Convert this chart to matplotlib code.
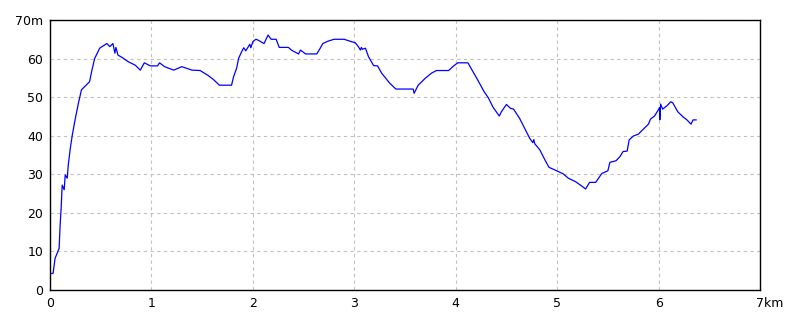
import matplotlib
matplotlib.use('Agg')
import matplotlib.pyplot as plt
import matplotlib.transforms as mtransforms

# distance (km) and elevation (m)
dist = [0.00, 0.03, 0.05, 0.09, 0.10, 0.11, 0.12, 0.14, 0.15, 0.17, 0.18, 0.20, 0.22, 0.25,
        0.28, 0.31, 0.34, 0.39, 0.41, 0.44, 0.49, 0.53, 0.56, 0.59, 0.62, 0.64, 0.65, 0.67,
        0.71, 0.77, 0.84, 0.89, 0.93, 0.99, 1.06, 1.08, 1.13, 1.22, 1.30, 1.40, 1.48, 1.56,
        1.61, 1.67, 1.79, 1.81, 1.84, 1.86, 1.89, 1.91, 1.93, 1.96, 1.97, 1.98, 2.00, 2.03,
        2.05, 2.11, 2.15, 2.18, 2.23, 2.26, 2.35, 2.38, 2.45, 2.47, 2.52, 2.63, 2.66, 2.69,
        2.74, 2.80, 2.90, 2.97, 3.01, 3.04, 3.06, 3.07, 3.08, 3.11, 3.14, 3.19, 3.23, 3.27,
        3.35, 3.41, 3.58, 3.59, 3.63, 3.70, 3.76, 3.81, 3.93, 3.98, 4.02, 4.12, 4.17, 4.22,
        4.28, 4.32, 4.37, 4.43, 4.45, 4.50, 4.54, 4.57, 4.63, 4.68, 4.73, 4.76, 4.77, 4.78,
        4.83, 4.88, 4.92, 4.98, 5.06, 5.11, 5.18, 5.23, 5.28, 5.32, 5.38, 5.44, 5.50, 5.52,
        5.58, 5.62, 5.65, 5.69, 5.71, 5.75, 5.80, 5.85, 5.90, 5.92, 5.96, 6.00, 6.01, 6.012,
        6.02, 6.04, 6.08, 6.12, 6.14, 6.19, 6.24, 6.28, 6.32, 6.34, 6.37]
elev = [4.3, 4.3, 8.2, 10.8, 16.9, 21.2, 27.2, 26.0, 29.8, 29.0, 32.4, 36.7, 40.2, 44.5,
        48.4, 51.9, 52.7, 54.0, 56.6, 60.0, 62.7, 63.4, 63.9, 63.1, 63.9, 61.4, 62.9, 60.9,
        60.3, 59.2, 58.3, 57.0, 58.9, 58.1, 58.1, 58.9, 57.9, 57.0, 57.9, 57.0, 56.9, 55.6,
        54.6, 53.1, 53.1, 55.3, 57.5, 60.1, 61.8, 62.8, 62.0, 63.3, 63.7, 62.8, 64.4, 65.0,
        64.8, 63.9, 66.1, 65.0, 65.0, 62.9, 62.9, 62.2, 61.2, 62.2, 61.2, 61.2, 62.5, 63.9,
        64.5, 65.0, 65.0, 64.4, 64.1, 63.1, 62.2, 62.9, 62.4, 62.7, 60.5, 58.2, 58.1, 56.2,
        53.6, 52.1, 52.1, 51.0, 53.1, 54.9, 56.2, 56.9, 56.9, 58.1, 58.9, 58.9, 56.6, 54.3,
        51.4, 49.9, 47.3, 45.1, 46.2, 48.1, 47.1, 46.9, 44.5, 41.9, 39.3, 38.2, 39.0, 37.9,
        36.3, 33.7, 31.8, 31.1, 30.1, 29.0, 28.1, 27.2, 26.2, 27.9, 27.9, 30.2, 30.9, 33.1,
        33.5, 34.6, 35.9, 36.0, 38.9, 39.9, 40.4, 41.7, 43.0, 44.3, 45.1, 46.8, 47.3, 44.1,
        48.2, 46.9, 47.7, 48.8, 48.5, 46.2, 44.9, 44.1, 43.0, 44.1, 44.1]

xticks = [0, 1, 2, 3, 4, 5, 6, 7]
xlabels = ['0', '1', '2', '3', '4', '5', '6', '7km']
yticks = [0, 10, 20, 30, 40, 50, 60, 70]
ylabels = ['0', '10', '20', '30', '40', '50', '60', '70m']

fig = plt.figure(figsize=(8, 3.2), dpi=100)
ax = fig.add_axes([0.0625, 0.09375, 0.8875, 0.84375])

ax.plot(dist, elev, color='#0000ff', linewidth=0.9)

ax.set_xlim(0, 7)
ax.set_ylim(0, 70)
ax.set_xticks(xticks)
ax.set_xticklabels(xlabels)
ax.set_yticks(yticks)
ax.set_yticklabels(ylabels)
ax.tick_params(length=0, labelsize=9, pad=5)

# last x label: number centred on the tick, unit hangs to the right
last = ax.get_xticklabels()[-1]
last.set_horizontalalignment('left')
last.set_transform(last.get_transform() +
                   mtransforms.ScaledTranslation(-0.035, 0, fig.dpi_scale_trans))

ax.grid(True, color='#c0c0c0', linestyle=(0, (3, 3)), linewidth=0.8)
ax.set_axisbelow(True)
for s in ax.spines.values():
    s.set_color('black')
    s.set_linewidth(1.0)

plt.savefig('out.png', dpi=100)
